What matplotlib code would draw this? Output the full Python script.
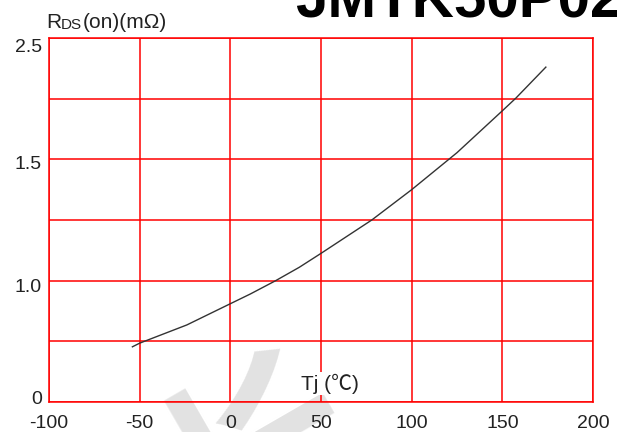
import matplotlib
matplotlib.use('Agg')
import matplotlib.pyplot as plt
from matplotlib.transforms import ScaledTranslation

plt.rcParams['font.family'] = ['Liberation Sans', 'DejaVu Sans']
plt.rcParams['axes.unicode_minus'] = False

# curve (y in grid units: 6 rows, labels below)
tj = [-54, -50, -24, 0, 11, 25, 38, 50, 78, 100, 125, 150, 157.5, 174]
rds = [0.91, 0.97, 1.27, 1.62, 1.78, 2.00, 2.22, 2.45, 3.00, 3.50, 4.11, 4.80, 5.01, 5.52]

x_ticks = [-100, -50, 0, 50, 100, 150, 200]
y_ticks = [0, 2, 4, 6]
y_labels = ['0', '1.0', '1.5', '2.5']
y_shift = [4, -5, -3, -7]   # label nudges in px, as in the datasheet

fig = plt.figure(figsize=(6.17, 4.32), dpi=100)
ax = fig.add_axes([49 / 617, 30 / 432, 544 / 617, 364 / 432])

ax.plot(tj, rds, color='#333333', lw=1.0, zorder=4)

ax.set_xlim(-100, 200)
ax.set_ylim(0, 6)
for xv in x_ticks:
    ax.axvline(xv, color='red', lw=1.1, zorder=3)
for yv in range(7):
    ax.axhline(yv, color='red', lw=1.1, zorder=3)
for s in ax.spines.values():
    s.set_color('red')
    s.set_linewidth(1.1)
    s.set_zorder(3)

ax.set_xticks(x_ticks)
ax.set_yticks(y_ticks)
ax.set_yticklabels(y_labels)
ax.tick_params(length=0, labelsize=14, labelcolor='#222222')
ax.tick_params(axis='x', pad=9)
ax.tick_params(axis='y', pad=5)
for lab, dy in zip(ax.get_yticklabels(), y_shift):
    lab.set_transform(lab.get_transform() + ScaledTranslation(0, dy / 100, fig.dpi_scale_trans))

# watermark
ax.text(18, -1.0, '长', fontsize=140, fontweight='bold', color='#e2e2e2',
        family=['Noto Sans CJK SC', 'DejaVu Sans'], rotation=30,
        ha='center', va='center', zorder=1, clip_on=False)

# axis labels
ax.text(55, 0.3, 'Tj (℃)', fontsize=15, color='#222222', ha='center', va='center',
        family=['Liberation Sans', 'Noto Sans CJK SC'], zorder=5,
        bbox=dict(facecolor='white', edgecolor='none', pad=1))

t1 = fig.text(46 / 617, 404 / 432, 'R', fontsize=15, color='#222222', va='baseline')
t2 = ax.annotate('DS', xy=(1, 0), xycoords=t1, fontsize=11, color='#222222',
                 va='bottom', annotation_clip=False)
ax.annotate('(on)(mΩ)', xy=(1, 0), xycoords=t2, fontsize=15, color='#222222',
            va='bottom', annotation_clip=False)

fig.text(295 / 617, 414 / 432, 'JMTK50P02', fontsize=42, fontweight='bold',
         color='black', va='baseline')

fig.savefig('out.png', dpi=100)
